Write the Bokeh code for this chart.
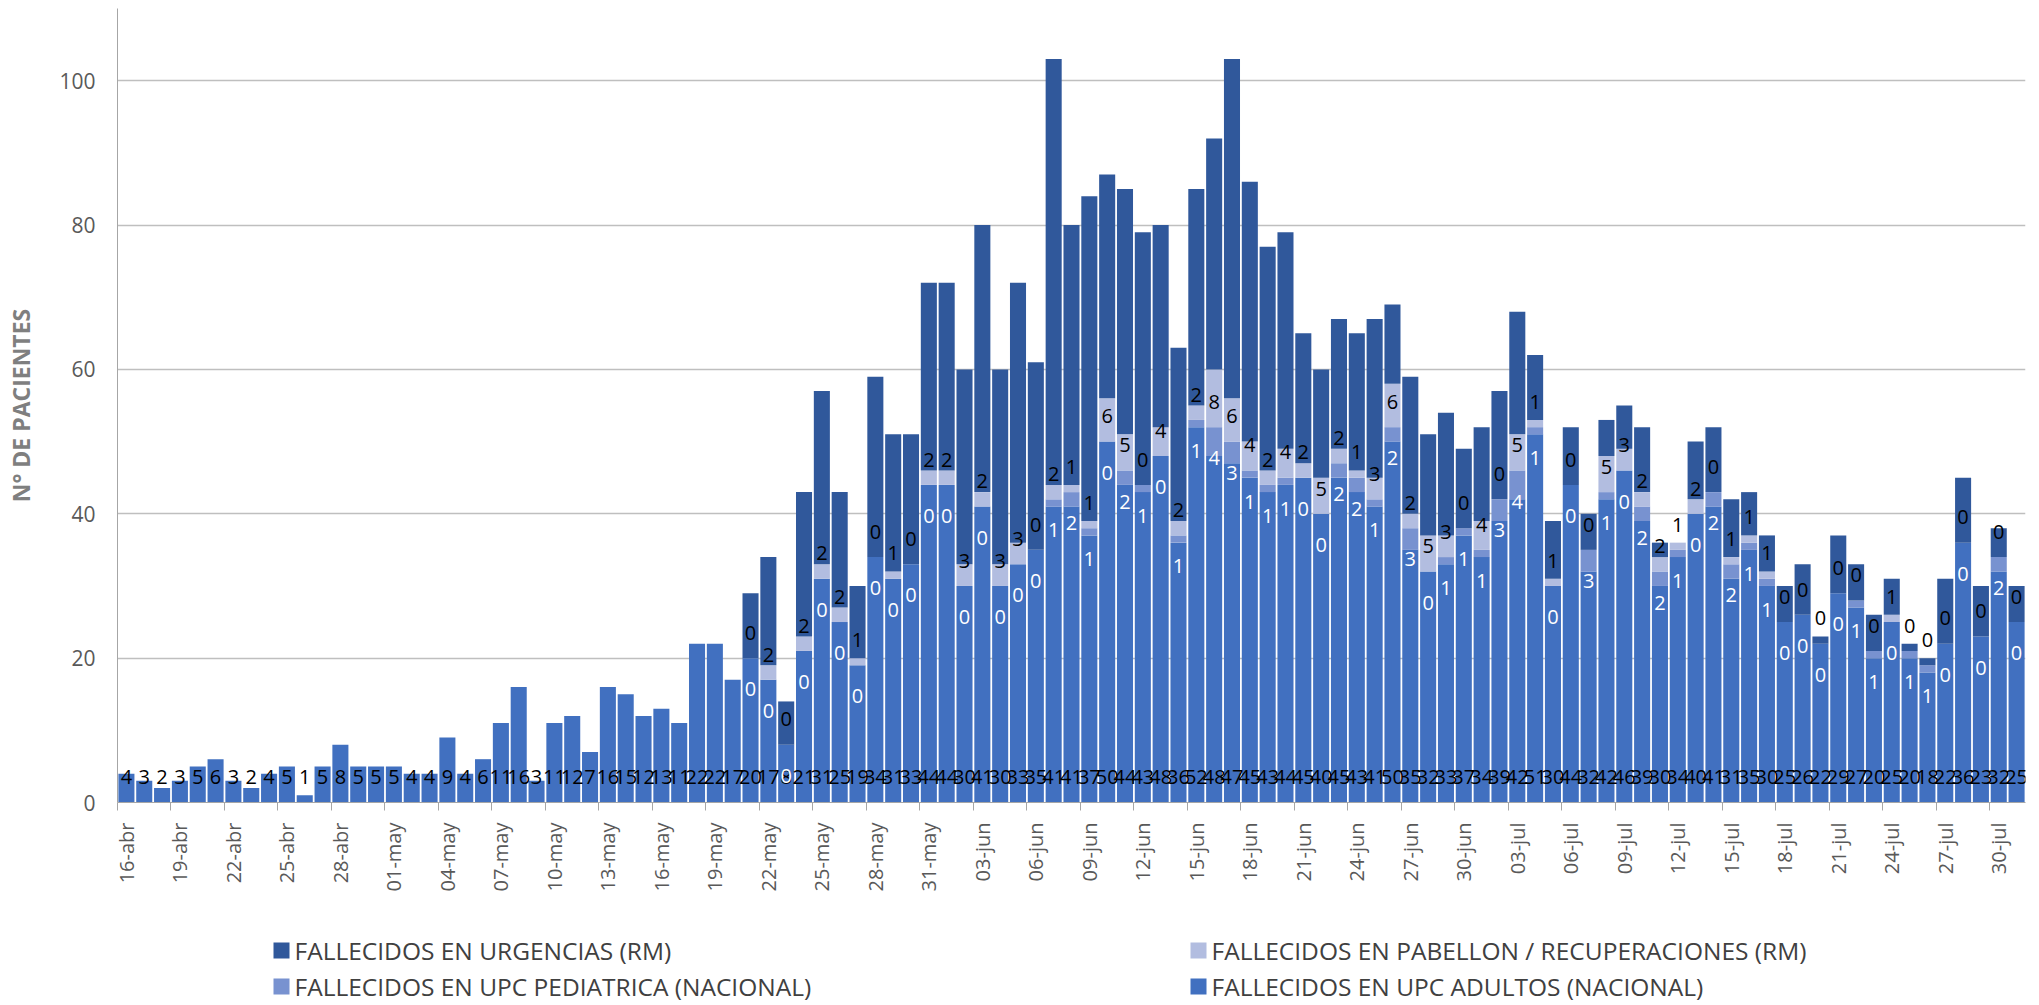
import numpy as np
from bokeh.plotting import figure
from bokeh.models import ColumnDataSource, Range1d, FixedTicker
from bokeh.layouts import column
from bokeh.core.properties import value
from bokeh.embed import file_html
from bokeh.resources import INLINE

# ---------------- data ----------------
tick_labels = ["16-abr", "19-abr", "22-abr", "25-abr", "28-abr", "01-may", "04-may", "07-may",
               "10-may", "13-may", "16-may", "19-may", "22-may", "25-may", "28-may", "31-may",
               "03-jun", "06-jun", "09-jun", "12-jun", "15-jun", "18-jun", "21-jun", "24-jun",
               "27-jun", "30-jun", "03-jul", "06-jul", "09-jul", "12-jul", "15-jul", "18-jul",
               "21-jul", "24-jul", "27-jul", "30-jul"]

series_names = ["FALLECIDOS EN URGENCIAS (RM)", "FALLECIDOS EN PABELLON / RECUPERACIONES (RM)",
                "FALLECIDOS EN UPC PEDIATRICA (NACIONAL)", "FALLECIDOS EN UPC ADULTOS (NACIONAL)"]

upc_adultos = [4, 3, 2, 3, 5, 6, 3, 2, 4, 5, 1, 5, 8, 5, 5, 5, 4, 4, 9,
               4, 6, 11, 16, 3, 11, 12, 7, 16, 15, 12, 13, 11, 22, 22, 17, 20, 17, 8,
               21, 31, 25, 19, 34, 31, 33, 44, 44, 30, 41, 30, 33, 35, 41, 41, 37, 50,
               44, 43, 48, 36, 52, 48, 47, 45, 43, 44, 45, 40, 45, 43, 41, 50, 35, 32, 33, 37,
               34, 39, 42, 51, 30, 44, 32, 42, 46, 39, 30, 34, 40, 41, 31, 35, 30,
               25, 26, 22, 29, 27, 20, 25, 20, 18, 22, 36, 23, 32, 25]

first_full = 35   # the other series only exist from this (0-based) bar on

upc_pediatrica = [None] * first_full + [
    0, 0, 0, 0, 0, 0, 0, 0, 0, 0, 0,
    0, 0, 0, 0, 0, 0, 1, 2, 1, 0,
    2, 1, 0, 1, 1, 4, 3, 1, 1, 1,
    0, 0, 2, 2, 1, 2, 3, 0, 1, 1,
    1, 3, 4, 1, 0, 0, 3, 1, 0, 2,
    2, 1, 0, 2, 2, 1, 1, 0, 0, 0,
    0, 1, 1, 0, 1, 1, 0, 0, 0, 2, 0]

pabellon = [None] * first_full + [
    0, 2, 0, 2, 2, 2, 1, 0, 1, 0, 2,
    2, 3, 2, 3, 3, 0, 2, 1, 1, 6,
    5, 0, 4, 2, 2, 8, 6, 4, 2, 4,
    2, 5, 2, 1, 3, 6, 2, 5, 3, 0,
    4, 0, 5, 1, 1, 0, 0, 5, 3, 2,
    2, 1, 2, 0, 1, 1, 1, 0, 0, 0,
    0, 0, 0, 1, 0, 0, 0, 0, 0, 0, 0]

urgencias = [None] * first_full + [
    9, 15, 6, 20, 24, 16, 10, 25, 19, 18, 26,
    26, 27, 37, 27, 36, 26, 59, 36, 45, 31,
    34, 35, 28, 24, 30, 32, 47, 36, 31, 30,
    18, 15, 18, 19, 22, 11, 19, 14, 17, 11,
    13, 15, 17, 9, 8, 8, 5, 5, 6, 9,
    2, 0, 8, 9, 8, 6, 5, 5, 7, 1,
    8, 5, 5, 5, 1, 1, 9, 9, 7, 4, 5]

# ---------------- styles ----------------
C_URG = "#30589B"
C_PAB = "#B2BDE0"
C_PED = "#7892D0"
C_ADU = "#4170C0"
FONT = "Open Sans"

N = len(upc_adultos)
xs = np.arange(1, N + 1)
adu = np.array(upc_adultos, dtype=float)
ped = np.array([v if v is not None else 0 for v in upc_pediatrica], dtype=float)
pab = np.array([v if v is not None else 0 for v in pabellon], dtype=float)
urg = np.array([v if v is not None else 0 for v in urgencias], dtype=float)

b1 = adu
b2 = b1 + ped
b3 = b2 + pab
b4 = b3 + urg

W = 2039
H1, H2 = 918, 86
BL, BR, BT = 117, 14, 8
FRAME_H = 794

p = figure(width=W, height=H1, x_range=Range1d(0.5, N + 0.5), y_range=Range1d(0, 110),
           output_backend="svg", toolbar_location=None,
           min_border_left=BL, min_border_right=BR, min_border_top=BT,
           min_border_bottom=H1 - FRAME_H - BT)

BW = 0.9
p.vbar(x=xs, bottom=0, top=b1, width=BW, fill_color=C_ADU, line_color=None)
p.vbar(x=xs, bottom=b1, top=b2, width=BW, fill_color=C_PED, line_color=None)
p.vbar(x=xs, bottom=b2, top=b3, width=BW, fill_color=C_PAB, line_color=None)
p.vbar(x=xs, bottom=b3, top=b4, width=BW, fill_color=C_URG, line_color=None)

# data labels
LBL = "20px"
p.text(x=xs, y=np.full(N, 3.6), text=[str(v) for v in upc_adultos],
       text_align="center", text_baseline="middle", text_font=value(FONT),
       text_font_size=LBL, text_color="#000000")

idx = [i for i in range(N) if upc_pediatrica[i] is not None]
src_ped = ColumnDataSource(dict(x=xs[idx], y=b2[idx] - 4.3, t=[str(upc_pediatrica[i]) for i in idx]))
p.text(x="x", y="y", text="t", source=src_ped, text_align="center", text_baseline="middle",
       text_font=value(FONT), text_font_size=LBL, text_color="#FFFFFF")
src_pab = ColumnDataSource(dict(x=xs[idx], y=b2[idx] + 3.5, t=[str(pabellon[i]) for i in idx]))
p.text(x="x", y="y", text="t", source=src_pab, text_align="center", text_baseline="middle",
       text_font=value(FONT), text_font_size=LBL, text_color="#000000")

# axes
major = list(range(1, N + 1, 3))
p.xaxis.ticker = FixedTicker(ticks=major, minor_ticks=[0.5 + 3 * k for k in range(36)])
p.xaxis.major_label_overrides = {t: lab for t, lab in zip(major, tick_labels)}
p.xaxis.major_label_orientation = np.pi / 2
p.xaxis.major_tick_line_color = None
p.xaxis.major_tick_in = 0
p.xaxis.major_tick_out = 0
p.xaxis.minor_tick_line_color = "#A6A6A6"
p.xaxis.minor_tick_in = 0
p.xaxis.minor_tick_out = 8
p.xaxis.major_label_standoff = 12
p.xaxis.axis_line_color = "#A6A6A6"
p.xaxis.major_label_text_font = FONT
p.xaxis.major_label_text_font_size = "20px"
p.xaxis.major_label_text_color = "#595959"

p.yaxis.ticker = FixedTicker(ticks=[0, 20, 40, 60, 80, 100])
p.yaxis.major_tick_line_color = None
p.yaxis.minor_tick_line_color = None
p.yaxis.major_tick_in = 0
p.yaxis.major_tick_out = 0
p.yaxis.major_label_standoff = 22
p.yaxis.axis_line_color = "#A6A6A6"
p.yaxis.major_label_text_font = FONT
p.yaxis.major_label_text_font_size = "21px"
p.yaxis.major_label_text_color = "#595959"
p.yaxis.axis_label = "N° DE PACIENTES"
p.yaxis.axis_label_text_font = FONT
p.yaxis.axis_label_text_font_style = "bold"
p.yaxis.axis_label_text_font_size = "23px"
p.yaxis.axis_label_text_color = "#7F7F7F"
p.yaxis.axis_label_standoff = 19

p.xgrid.visible = False
p.ygrid.ticker = FixedTicker(ticks=[20, 40, 60, 80, 100])
p.ygrid.grid_line_color = "#BFBFBF"
p.ygrid.grid_line_width = 1.3
p.outline_line_color = None

# legend figure: frame aligned with the chart frame, coordinates in page pixels
leg = figure(width=W, height=H2, x_range=Range1d(BL, W - BR), y_range=Range1d(H1 + H2, H1),
             output_backend="svg", toolbar_location=None,
             min_border_left=BL, min_border_right=BR, min_border_top=0, min_border_bottom=0,
             x_axis_location=None, y_axis_location=None)
leg.grid.visible = False
leg.outline_line_color = None
lx_sq = [281, 1198, 281, 1198]
lx_tx = [294, 1211, 294, 1211]
ly = [950, 950, 986, 986]
leg_colors = [C_URG, C_PAB, C_PED, C_ADU]
leg.rect(x=lx_sq, y=ly, width=16, height=16, fill_color=leg_colors, line_color=None)
leg.text(x=lx_tx, y=ly, text=series_names, text_align="left",
         text_baseline="middle", text_font=value(FONT), text_font_size="24.5px", text_color="#404040")

layout = column(p, leg, spacing=0)
open("out.html", "w").write(file_html(layout, INLINE))
